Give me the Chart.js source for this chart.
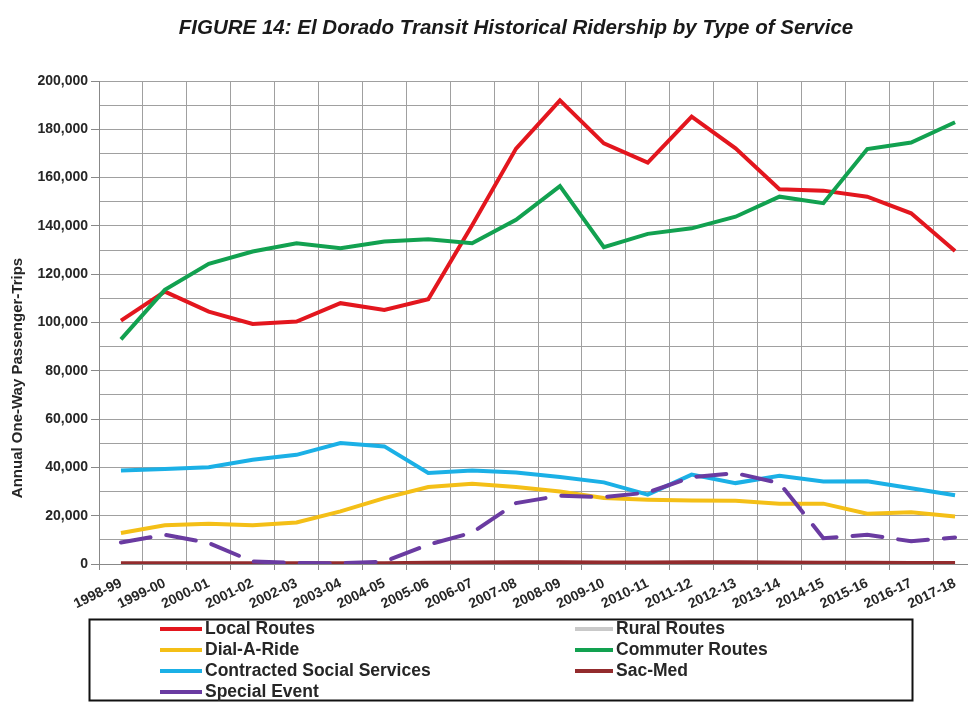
<!DOCTYPE html>
<html>
<head>
<meta charset="utf-8">
<title>El Dorado Transit Historical Ridership</title>
<script src="https://cdn.jsdelivr.net/npm/chart.js@4.4.0/dist/chart.umd.min.js"></script>
<style>
    html, body { margin: 0; padding: 0; background: #fff; overflow: hidden; }
    canvas { display: block; }
</style>
</head>
<body>
<canvas id="ridership-chart" width="1032" height="702"></canvas>
<script>
// Fiscal years (categories)
const years = ['1998-99', '1999-00', '2000-01', '2001-02', '2002-03', '2003-04', '2004-05',
    '2005-06', '2006-07', '2007-08', '2008-09', '2009-10', '2010-11', '2011-12', '2012-13',
    '2013-14', '2014-15', '2015-16', '2016-17', '2017-18'];

// Annual one-way passenger-trips
const localRoutes = [100800, 112800, 104500, 99400, 100400, 108000, 105200, 109600, 140300, 172000,
    192000, 174200, 166200, 185200, 172100, 155200, 154600, 152100, 145200, 129600];
const ruralRoutes = [0, 0, 0, 0, 0, 0, 0, 0, 0, 0, 0, 0, 0, 0, 0, 0, 0, 0, 0, 0];
const dialARide = [12800, 16000, 16700, 16000, 17200, 21800, 27300, 31900, 33200, 31900,
    30000, 27300, 26600, 26300, 26200, 25000, 25000, 20800, 21400, 19700];
const commuterRoutes = [93000, 113500, 124300, 129400, 132800, 130800, 133500, 134500, 132800, 142500,
    156500, 131200, 136700, 139000, 143800, 152100, 149400, 171800, 174500, 182900];
const contractedSocial = [38700, 39300, 40100, 43200, 45200, 50100, 48700, 37700, 38700, 37900,
    36000, 33800, 28700, 37000, 33500, 36500, 34200, 34300, 31400, 28500];
const sacMed = [300, 300, 300, 300, 300, 300, 300, 500, 600, 700,
    700, 600, 600, 700, 700, 600, 500, 500, 400, 400];
const specialEvent = [8900, 12100, 8700, 1000, 400, 300, 1000, 8000, 13000, 25200,
    28300, 27700, 29600, 36000, 37600, 33500, 10700, 12100, 9400, 11000];

const FONT = "'Liberation Sans', Arial, sans-serif";
const GRID = '#a0a0a0';
const TEXT = '#262626';
const TITLE = 'FIGURE 14: El Dorado Transit Historical Ridership by Type of Service';
const Y_TITLE = 'Annual One-Way Passenger-Trips';

function series(label, values, color, order, extra) {
    return Object.assign({
        label: label,
        data: values,
        borderColor: color,
        backgroundColor: color,
        borderWidth: 4,
        pointRadius: 0,
        tension: 0,
        fill: false,
        order: order
    }, extra || {});
}

// Excel-style title (centred on the page, not the plot), y title and boxed legend
const excelExtras = {
    id: 'excelExtras',
    afterDraw(chart) {
        const ctx = chart.ctx;

        ctx.save();
        ctx.fillStyle = '#1a1a1a';
        ctx.font = 'italic bold 20.5px ' + FONT;
        ctx.textAlign = 'center';
        ctx.textBaseline = 'middle';
        ctx.fillText(TITLE, 516, 28);
        ctx.restore();

        ctx.save();
        ctx.translate(18, 378);
        ctx.rotate(-Math.PI / 2);
        ctx.fillStyle = TEXT;
        ctx.font = 'bold 15px ' + FONT;
        ctx.textAlign = 'center';
        ctx.textBaseline = 'middle';
        ctx.fillText(Y_TITLE, 0, 0);
        ctx.restore();

        ctx.save();
        ctx.strokeStyle = '#111';
        ctx.lineWidth = 2;
        ctx.strokeRect(89.5, 619.5, 823, 81);

        const cols = [{ line: 160, lineEnd: 202, text: 205 }, { line: 575, lineEnd: 613, text: 616 }];
        ctx.font = 'bold 17.5px ' + FONT;
        ctx.textBaseline = 'middle';
        ctx.textAlign = 'left';
        chart.data.datasets.forEach((ds, i) => {
            const c = cols[i % 2];
            const y = 629 + Math.floor(i / 2) * 21;
            ctx.strokeStyle = ds.borderColor;
            ctx.lineWidth = 4;
            ctx.beginPath();
            ctx.moveTo(c.line, y);
            ctx.lineTo(c.lineEnd, y);
            ctx.stroke();
            ctx.fillStyle = TEXT;
            ctx.fillText(ds.label, c.text, y);
        });
        ctx.restore();
    }
};

const ctx = document.getElementById('ridership-chart').getContext('2d');

new Chart(ctx, {
    type: 'line',
    data: {
        labels: years,
        datasets: [
            series('Local Routes', localRoutes, '#e3161e', 7),
            series('Rural Routes', ruralRoutes, '#c9c9c9', 6),
            series('Dial-A-Ride', dialARide, '#f4bf17', 5),
            series('Commuter Routes', commuterRoutes, '#12a150', 4),
            series('Contracted Social Services', contractedSocial, '#1bb0e6', 3),
            series('Sac-Med', sacMed, '#932b2d', 2),
            series('Special Event', specialEvent, '#6a3ba1', 1, { borderDash: [30, 16], borderCapStyle: 'round' })
        ]
    },
    options: {
        responsive: false,
        animation: false,
        layout: { padding: { left: 0, right: 55, top: 81, bottom: 88 } },
        scales: {
            x: {
                type: 'category',
                offset: true,
                grid: { offset: true, color: GRID, lineWidth: 1, tickLength: 6, tickColor: '#888' },
                border: { color: '#888' },
                ticks: {
                    color: TEXT,
                    autoSkip: false,
                    minRotation: 26,
                    maxRotation: 26,
                    padding: 5,
                    font: { family: FONT, size: 14, weight: 'bold' }
                },
                afterFit: (scale) => { scale.height = 50; }
            },
            y: {
                min: 0,
                max: 200000,
                grid: {
                    color: GRID,
                    lineWidth: 1,
                    tickLength: 8,
                    tickColor: (c) => (c.tick && c.tick.value % 20000 === 0) ? '#888' : 'rgba(0,0,0,0)'
                },
                border: { color: '#888' },
                ticks: {
                    stepSize: 10000,
                    color: TEXT,
                    padding: 3,
                    font: { family: FONT, size: 14, weight: 'bold' },
                    callback: (v) => v % 20000 === 0 ? v.toLocaleString('en-US') : ''
                },
                afterFit: (scale) => { scale.width = 99; }
            }
        },
        plugins: {
            legend: { display: false },
            tooltip: { enabled: false },
            title: { display: false }
        }
    },
    plugins: [excelExtras]
});
</script>
</body>
</html>
